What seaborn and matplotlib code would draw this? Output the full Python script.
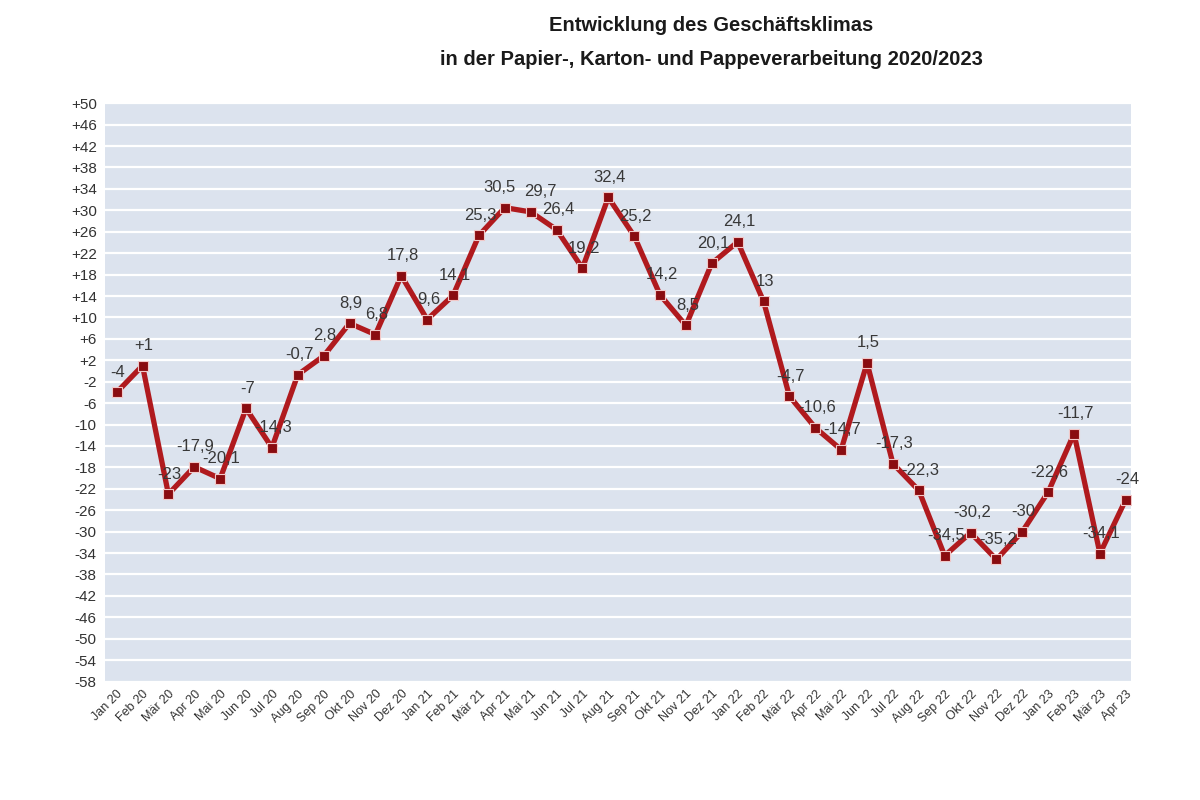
import matplotlib
matplotlib.use("Agg")
import matplotlib.pyplot as plt
import seaborn as sns
import pandas as pd

# monthly values Jan 2020 .. Apr 2023
months = ["Jan", "Feb", "Mär", "Apr", "Mai", "Jun", "Jul", "Aug", "Sep", "Okt", "Nov", "Dez"]
years = ["20", "21", "22", "23"]
month_labels = [f"{m} {y}" for y in years for m in months][:40]

values = [-4, 1, -23, -17.9, -20.1, -7, -14.3, -0.7, 2.8, 8.9, 6.8, 17.8,
          9.6, 14.1, 25.3, 30.5, 29.7, 26.4, 19.2, 32.4, 25.2, 14.2, 8.5, 20.1,
          24.1, 13, -4.7, -10.6, -14.7, 1.5, -17.3, -22.3, -34.5, -30.2, -35.2, -30,
          -22.6, -11.7, -34.1, -24]
value_labels = ["-4", "+1", "-23", "-17,9", "-20,1", "-7", "-14,3", "-0,7", "2,8", "8,9", "6,8", "17,8",
                "9,6", "14,1", "25,3", "30,5", "29,7", "26,4", "19,2", "32,4", "25,2", "14,2", "8,5", "20,1",
                "24,1", "13", "-4,7", "-10,6", "-14,7", "1,5", "-17,3", "-22,3", "-34,5", "-30,2", "-35,2", "-30",
                "-22,6", "-11,7", "-34,1", "-24"]
y_ticks = list(range(50, -59, -4))

df = pd.DataFrame({"pos": range(len(values)), "value": values})

plt.rcParams["font.family"] = ["Liberation Sans", "DejaVu Sans"]

fig = plt.figure(figsize=(12, 8), dpi=100)
ax = fig.add_axes([0.0875, 0.146, 0.855, 0.727])
ax.set_facecolor("#dce3ee")

sns.lineplot(data=df, x="pos", y="value", ax=ax, color="#b01a1e", linewidth=3.8,
             marker="s", markersize=7, markerfacecolor="#8a0c10",
             markeredgecolor="#f2c8c8", markeredgewidth=0.8, zorder=3)

# small nudges where neighbouring labels collide
nudge = {15: -5, 16: 6}
for x, v, lab in zip(df["pos"], values, value_labels):
    ax.annotate(lab, (x, v), xytext=(1 + nudge.get(x, 0), 9), textcoords="offset points",
                ha="center", va="bottom", fontsize=12, color="#383838", zorder=4)

ax.set_ylim(-58.3, 50.3)
ax.set_xlim(-0.45, 39.2)
ax.set_yticks(y_ticks)
ax.set_yticklabels([f"+{t}" if t > 0 else str(t) for t in y_ticks], fontsize=11, color="#333333")
ax.grid(axis="y", color="white", linewidth=1.6)
ax.set_axisbelow(True)
ax.tick_params(axis="both", length=0)
ax.tick_params(axis="y", pad=6)
for s in ax.spines.values():
    s.set_visible(False)

ax.set_xticks(df["pos"])
ax.set_xticklabels(month_labels, rotation=45, ha="right", va="top",
                   rotation_mode="anchor", fontsize=9, color="#333333")
ax.set_xlabel("")
ax.set_ylabel("")

fig.text(0.593, 0.98, "Entwicklung des Geschäftsklimas", ha="center", va="top",
         fontsize=14.5, fontweight="bold", color="#1a1a1a")
fig.text(0.593, 0.938, "in der Papier-, Karton- und Pappeverarbeitung 2020/2023", ha="center", va="top",
         fontsize=14.5, fontweight="bold", color="#1a1a1a")

fig.savefig("out.png", dpi=100, facecolor="white")
plt.close(fig)
